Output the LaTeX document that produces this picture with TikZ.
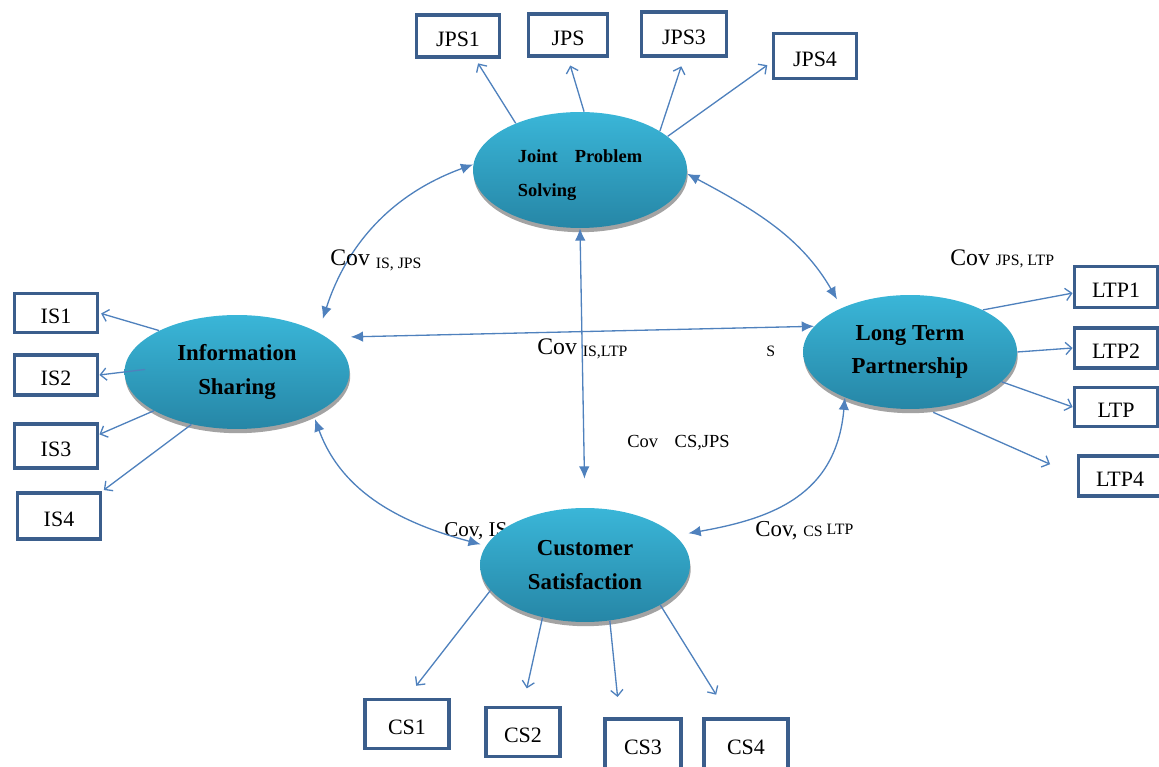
\documentclass[tikz,border=0pt]{standalone}
\usepackage{fontspec}
\setmainfont{Liberation Serif}
\usetikzlibrary{arrows.meta,shadows,shapes.geometric}
\definecolor{linkblue}{RGB}{79,129,189}
\definecolor{boxblue}{RGB}{59,94,140}
\definecolor{ovaltop}{RGB}{58,182,216}
\definecolor{ovalbot}{RGB}{38,134,166}
\begin{document}
\begin{tikzpicture}[x=0.02cm,y=0.02cm,
  latent/.style={ellipse,inner sep=0pt,minimum width=4.28cm,minimum height=2.28cm,
    top color=ovaltop,bottom color=ovalbot,
    drop shadow={shadow xshift=0.4pt,shadow yshift=-2.4pt,fill=black!45,opacity=.8},
    font=\fontsize{13}{19}\selectfont\bfseries,align=center},
  ind/.style={draw=boxblue,line width=2.2pt,fill=white,inner sep=0pt,
    minimum width=1.66cm,minimum height=0.84cm,text height=12.5pt,text depth=0pt,
    font=\fontsize{12.5}{14}\selectfont},
  load/.style={draw=linkblue,line width=0.75pt,-{Straight Barb[length=3.5pt,width=7pt]}},
  cov/.style={draw=linkblue,line width=0.75pt,
    {Latex[length=7pt,width=6pt]}-{Latex[length=7pt,width=6pt]}},
  covlab/.style={inner sep=0pt,anchor=base west,font=\fontsize{13.5}{15}\selectfont}]
\useasboundingbox (0,0) rectangle (1159,767);
\node[covlab,font=\fontsize{12}{14}\selectfont] (liscs) at (444,230) {Cov, IS};
\node[latent,minimum height=2.32cm,font=\fontsize{10.5}{19.3}\selectfont\bfseries,align=left,text height=32.5pt] (jps) at (580,597) {Joint\hspace{0.92em}Problem\\Solving};
\node[latent,minimum width=4.5cm] (is) at (237,395) {Information\\Sharing};
\node[latent] (ltp) at (910,415) {Long Term\\Partnership};
\node[latent,minimum width=4.2cm] (cs) at (585,202) {Customer\\Satisfaction};
\node[ind] (jps1) at (458,731) {JPS1};
\node[ind,minimum width=1.58cm] (jps2) at (568,732) {JPS};
\node[ind,minimum width=1.7cm,minimum height=0.88cm] (jps3) at (684,733) {JPS3};
\node[ind,minimum height=0.9cm] (jps4) at (815,711) {JPS4};
\node[ind,minimum height=0.78cm] (is1) at (56,454) {IS1};
\node[ind,minimum height=0.8cm] (is2) at (56,392) {IS2};
\node[ind,minimum height=0.88cm] (is3) at (56,321) {IS3};
\node[ind,minimum height=0.92cm] (is4) at (59,251) {IS4};
\node[ind,minimum height=0.82cm] (ltp1) at (1116,480) {LTP1};
\node[ind,minimum height=0.8cm] (ltp2) at (1116,419) {LTP2};
\node[ind,minimum height=0.78cm] (ltp3) at (1116,360) {LTP};
\node[ind,minimum height=0.8cm] (ltp4) at (1120,291) {LTP4};
\node[ind,minimum width=1.68cm,minimum height=0.98cm] (cs1) at (407,43) {CS1};
\node[ind,minimum width=1.48cm,minimum height=0.98cm] (cs2) at (523,35) {CS2};
\node[ind,minimum width=1.52cm,minimum height=1.12cm,text height=9pt] (cs3) at (643,20) {CS3};
\node[ind,minimum width=1.68cm,minimum height=1.12cm,text height=9pt] (cs4) at (746,20) {CS4};
\draw[load,shorten >=3pt] (jps.144) to (jps1.-53);
\draw[load,shorten >=4.5pt] (jps.86) to (jps2.south);
\draw[load,shorten >=5pt] (jps.26) to (jps3.south);
\draw[load,shorten >=3pt] (jps.21) to (jps4.188);
\draw[load,shorten >=1pt] (is.152) to (is1.east);
\draw[load,shorten <=-12pt] (is.180) to (is2.east);
\draw[load] (is.205) to (is3.15);
\draw[load,shorten >=1pt] (is.229) to (is4.north east);
\draw[load] (ltp.30) to (ltp1.188);
\draw[load] (ltp.0) to (ltp2.west);
\draw[load] (ltp.-18) to (ltp3.west);
\draw[load,shorten <=5pt,shorten >=16.5pt] (ltp.-75) to (ltp4.west);
\draw[load,shorten >=8.5pt] (cs.195) to (cs1.north);
\draw[load,shorten >=10pt] (cs.231) to (cs2.north);
\draw[load,shorten >=11.5pt] (cs.-66) to (cs3.128);
\draw[load,shorten >=15pt] (cs.-28) to (cs4.118);
\draw[cov,shorten <=8pt] (is.26) to[out=72,in=200] (jps.177);
\draw[cov,shorten >=5.5pt] (jps.-2) to[out=-28,in=120] (ltp.147);
\draw[cov,shorten <=13.5pt] (is.21.5) to (ltp.165);
\draw[cov,shorten >=16.5pt] (jps.south) to (cs.north);
\draw[cov,shorten <=3pt,shorten >=3pt] (is.-29) to[out=-70,in=165] (cs.169);
\draw[cov,shorten >=7.5pt] (ltp.-145) to[out=-95,in=10,looseness=1.15] (cs.18);
\node[covlab] (lisjps) at (330,501) {Cov {\fontsize{9}{10}\selectfont\raisebox{-1.5pt}{IS, JPS}}};
\node[covlab] (lisltp) at (537,412) {Cov {\fontsize{9}{10}\selectfont\raisebox{-1pt}{IS,LTP}}};
\node[covlab,font=\fontsize{9}{10}\selectfont] (ls) at (766,410) {S};
\node[covlab] (ljpsltp) at (950,501) {Cov {\fontsize{9}{10}\selectfont JPS, LTP}};
\node[covlab,font=\fontsize{10.5}{12}\selectfont] (lcsjps) at (627,319) {Cov\hspace{0.9em}CS,JPS};
\node[covlab,font=\fontsize{13}{14}\selectfont] (lcsltp) at (755,230) {Cov, {\fontsize{9}{10}\selectfont CS \raisebox{1.5pt}{LTP}}};
\end{tikzpicture}
\end{document}
